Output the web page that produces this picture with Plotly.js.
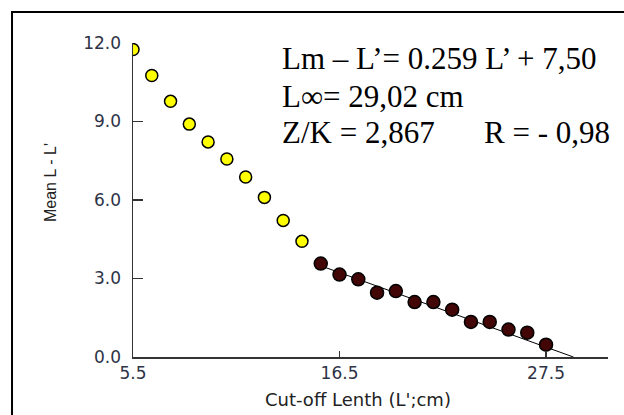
<!DOCTYPE html>
<html>
<head>
<meta charset="utf-8">
<script src="https://cdn.plot.ly/plotly-3.0.1.min.js"></script>
<style>html,body{margin:0;padding:0;background:#fff;}#chart{width:624px;height:415px;}</style>
</head>
<body>
<div id="chart"></div>
<script>
// Cut-off length (L', cm) and Mean L - L'
const xExcluded = [5.5, 6.5, 7.5, 8.5, 9.5, 10.5, 11.5, 12.5, 13.5, 14.5];
const yExcluded = [11.75, 10.76, 9.77, 8.90, 8.22, 7.57, 6.88, 6.10, 5.22, 4.42];
const xUsed = [15.5, 16.5, 17.5, 18.5, 19.5, 20.5, 21.5, 22.5, 23.5, 24.5, 25.5, 26.5, 27.5];
const yUsed = [3.57, 3.15, 2.97, 2.46, 2.52, 2.10, 2.10, 1.81, 1.34, 1.34, 1.05, 0.93, 0.47];
// regression line Lm - L' = a + b L'
const regIntercept = 7.50;
const regSlope = -0.259;
const lineX = [15.5, 28.96];
const lineY = lineX.map(x => regIntercept + regSlope * x);

const xTicks = [5.5, 16.5, 27.5];
const xTickText = ['5.5', '16.5', '27.5'];
const yTicks = [0, 3, 6, 9, 12];
const yTickText = ['0.0', '3.0', '6.0', '9.0', '12.0'];

const eqLines = ['Lm \u2013 L\u2019= 0.259 L\u2019 + 7,50', 'L\u221E= 29,02 cm', 'Z/K = 2,867'];
const rText = 'R = - 0,98';

const traces = [
  {x: lineX, y: lineY, type: 'scatter', mode: 'lines', line: {color: '#000', width: 1}, hoverinfo: 'skip', showlegend: false},
  {x: xExcluded, y: yExcluded, type: 'scatter', mode: 'markers', showlegend: false,
   marker: {symbol: 'circle', size: 12, color: '#FFFF00', line: {color: '#000', width: 1.5}}},
  {x: xUsed, y: yUsed, type: 'scatter', mode: 'markers', showlegend: false,
   marker: {symbol: 'circle', size: 13, color: '#420606', line: {color: '#000', width: 1.5}}}
];

const tickFont = {family: 'DejaVu Sans, Verdana, sans-serif', size: 17, color: '#2e3346'};
const serif = {family: 'Liberation Serif, Times New Roman, serif', size: 31, color: '#000'};

const layout = {
  width: 624, height: 415,
  margin: {l: 133, r: 16, t: 43, b: 58, pad: 0},
  paper_bgcolor: '#fff', plot_bgcolor: '#fff',
  showlegend: false,
  xaxis: {range: [5.5, 30.8], tickvals: xTicks, ticktext: xTickText, ticks: 'inside', ticklen: 6, tickwidth: 1.5,
          tickcolor: '#333', showline: true, linecolor: '#333', linewidth: 1.5, showgrid: false, zeroline: false,
          tickfont: tickFont, ticklabelstandoff: 0},
  yaxis: {range: [0, 12], tickvals: yTicks, ticktext: yTickText, ticks: 'inside', ticklen: 10, tickwidth: 1.5,
          tickcolor: '#333', showline: true, linecolor: '#333', linewidth: 1.5, showgrid: false, zeroline: false,
          tickfont: tickFont, ticklabelstandoff: 7},
  shapes: [
    {type: 'rect', xref: 'paper', yref: 'paper', x0: -0.2547, x1: 1.05, y0: -0.21, y1: 1.0987,
     line: {color: '#000', width: 2}, fillcolor: 'rgba(0,0,0,0)', layer: 'below'}
  ],
  annotations: [
    {xref: 'paper', yref: 'paper', x: 0.3095, y: 0.952, xanchor: 'left', yanchor: 'middle', text: eqLines[0], showarrow: false, font: serif},
    {xref: 'paper', yref: 'paper', x: 0.3095, y: 0.831, xanchor: 'left', yanchor: 'middle', text: eqLines[1], showarrow: false, font: serif},
    {xref: 'paper', yref: 'paper', x: 0.3095, y: 0.715, xanchor: 'left', yanchor: 'middle', text: eqLines[2], showarrow: false, font: serif},
    {xref: 'paper', yref: 'paper', x: 0.7347, y: 0.715, xanchor: 'left', yanchor: 'middle', text: rText, showarrow: false, font: serif},
    {xref: 'paper', yref: 'paper', x: (357.5 - 133) / 475, y: (357 - 399) / 314, xanchor: 'center', yanchor: 'middle',
     text: 'Cut-off Lenth (L\';cm)', showarrow: false, font: {family: 'DejaVu Sans, Verdana, sans-serif', size: 18, color: '#222'}},
    {xref: 'paper', yref: 'paper', x: (50.5 - 133) / 475, y: (357 - 182.5) / 314, xanchor: 'center', yanchor: 'middle', textangle: -90,
     text: 'Mean L - L\'', showarrow: false, font: {family: 'Liberation Sans, Arial, sans-serif', size: 16, color: '#222'}}
  ]
};

Plotly.newPlot('chart', traces, layout, {displayModeBar: false, staticPlot: true});
</script>
</body>
</html>
